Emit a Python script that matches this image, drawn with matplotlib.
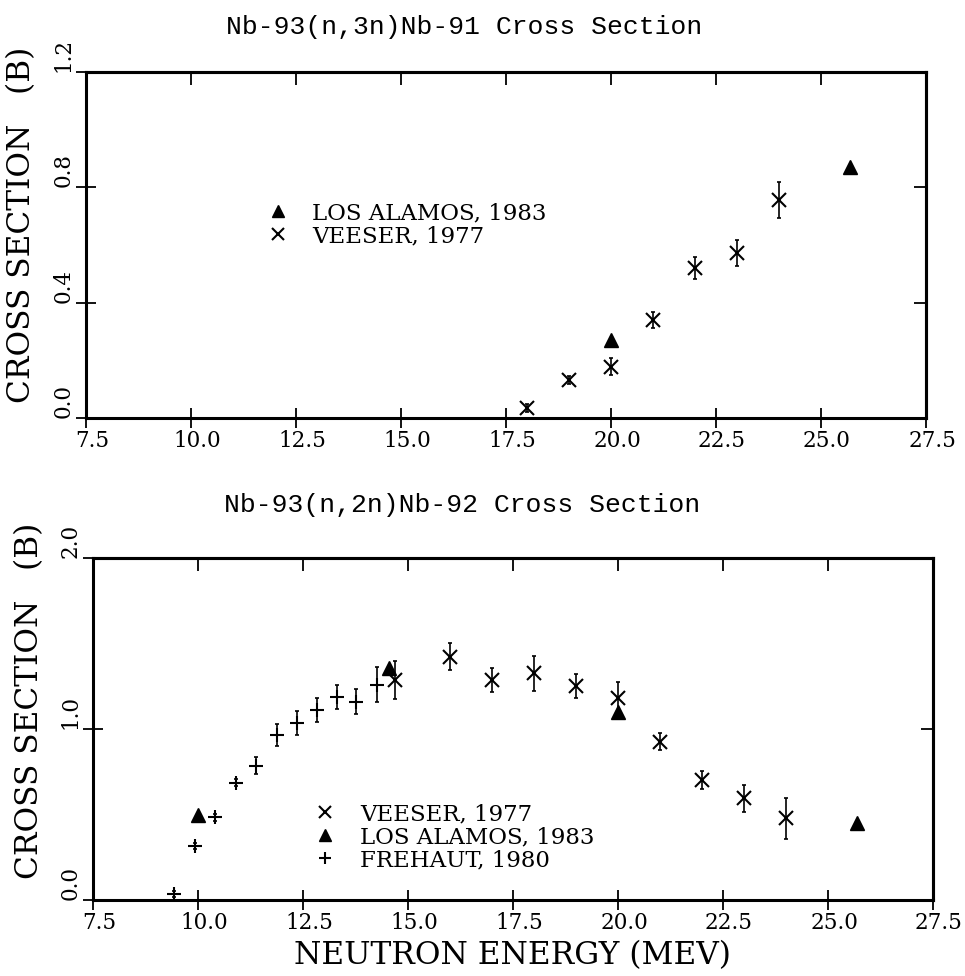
import matplotlib
matplotlib.use('Agg')
import matplotlib.pyplot as plt
import matplotlib.transforms as mtransforms
import numpy as np

# (n,3n) data
veeser3_e = [18.0, 19.0, 20.0, 21.0, 22.0, 23.0, 24.0]
veeser3_s = [0.035, 0.132, 0.178, 0.340, 0.521, 0.573, 0.756]
veeser3_err = [0.015, 0.015, 0.029, 0.027, 0.039, 0.045, 0.061]
lanl3_e = [20.0, 25.7]
lanl3_s = [0.272, 0.871]

# (n,2n) data
veeser2_e = [14.7, 16.0, 17.0, 18.0, 19.0, 20.0, 21.0, 22.0, 23.0, 24.0]
veeser2_s = [1.287, 1.423, 1.287, 1.325, 1.251, 1.180, 0.926, 0.700, 0.595, 0.478]
veeser2_err = [0.11, 0.08, 0.07, 0.10, 0.07, 0.095, 0.05, 0.053, 0.08, 0.12]
lanl2_e = [10.0, 14.55, 20.0, 25.7]
lanl2_s = [0.497, 1.355, 1.10, 0.45]
frehaut_e = [9.43, 9.93, 10.40, 10.90, 11.39, 11.87, 12.36, 12.84, 13.31, 13.77, 14.25]
frehaut_s = [0.035, 0.316, 0.484, 0.686, 0.784, 0.965, 1.033, 1.111, 1.189, 1.160, 1.260]
frehaut_err = [0.015, 0.02, 0.02, 0.02, 0.05, 0.065, 0.07, 0.07, 0.07, 0.075, 0.10]

xticks = [7.5, 10.0, 12.5, 15.0, 17.5, 20.0, 22.5, 25.0, 27.5]
yticks3 = [0.0, 0.4, 0.8, 1.2]
yticks2 = [0.0, 1.0, 2.0]

title3 = "Nb-93(n,3n)Nb-91 Cross Section"
title2 = "Nb-93(n,2n)Nb-92 Cross Section"

serif = 'DejaVu Serif'
W, H = 965, 976

fig = plt.figure(figsize=(W / 100, H / 100), dpi=100)
ax1 = fig.add_axes([86 / W, 1 - 418 / H, 840 / W, 346 / H])
ax2 = fig.add_axes([93 / W, 1 - 900 / H, 840 / W, 342 / H])


def style_axes(ax, yticks, ymax):
    ax.set_xlim(7.5, 27.5)
    ax.set_ylim(0, ymax)
    ax.set_xticks(xticks)
    ax.set_xticklabels(['%.1f' % t for t in xticks], family=serif, fontsize=15.5)
    ax.set_yticks(yticks)
    ax.set_yticklabels(['%.1f' % t for t in yticks], family=serif, fontsize=15.5,
                       rotation=90, va='bottom')
    ax.tick_params(direction='inout', length=14, width=1.3, pad=1.5)
    for sp in ax.spines.values():
        sp.set_linewidth(2.2)
    # inward ticks on top / right
    top = ax.secondary_xaxis('top')
    top.set_xticks(xticks[1:-1])
    top.tick_params(direction='in', length=9, width=1.3, labeltop=False)
    top.spines['top'].set_linewidth(2.2)
    right = ax.secondary_yaxis('right')
    right.set_yticks(yticks[1:-1])
    right.tick_params(direction='in', length=9, width=1.3, labelright=False)
    right.spines['right'].set_linewidth(2.2)
    shift = mtransforms.ScaledTranslation(6 / 100, 0, fig.dpi_scale_trans)
    for lab in ax.get_xticklabels():
        lab.set_transform(lab.get_transform() + shift)


style_axes(ax1, yticks3, 1.2)
style_axes(ax2, yticks2, 2.0)

eb = dict(fmt='none', ecolor='black', elinewidth=1.2, capsize=1.5, capthick=1.2)
leg = dict(loc='upper left', frameon=False, prop={'family': serif, 'size': 16.5},
           handlelength=1.0, handletextpad=1.0, labelspacing=0.04,
           borderpad=0, borderaxespad=0, markerscale=0.85)

# top panel
ax1.errorbar(veeser3_e, veeser3_s, yerr=veeser3_err, **eb)
ax1.plot(lanl3_e, lanl3_s, ls='none', marker='^', ms=10.5, color='black',
         label='LOS ALAMOS, 1983')
ax1.plot(veeser3_e, veeser3_s, ls='none', marker='x', ms=10.5, mew=1.5,
         color='black', label='VEESER, 1977')
ax1.legend(bbox_to_anchor=(0.215, 0.623), **leg)

# bottom panel
ax2.errorbar(veeser2_e, veeser2_s, yerr=veeser2_err, **eb)
ax2.errorbar(frehaut_e, frehaut_s, yerr=frehaut_err, **eb)
ax2.plot(veeser2_e, veeser2_s, ls='none', marker='x', ms=10.5, mew=1.5,
         color='black', label='VEESER, 1977')
ax2.plot(lanl2_e, lanl2_s, ls='none', marker='^', ms=10.5, color='black',
         label='LOS ALAMOS, 1983')
ax2.plot(frehaut_e, frehaut_s, ls='none', marker='+', ms=9.5, mew=1.5,
         color='black', label='FREHAUT, 1980')
ax2.legend(bbox_to_anchor=(0.263, 0.283), **leg)

# axis labels
ax1.set_ylabel('CROSS SECTION   (B)', family=serif, fontsize=22.5)
ax1.yaxis.set_label_coords(-0.058, 0.558)
ax2.set_ylabel('CROSS SECTION   (B)', family=serif, fontsize=22.5)
ax2.yaxis.set_label_coords(-0.057, 0.582)
ax2.set_xlabel('NEUTRON ENERGY (MEV)', family=serif, fontsize=22.5)
ax2.xaxis.set_label_coords(0.5, -0.118)

fig.text(464 / W, 1 - 27 / H, title3, ha='center', va='center',
         family='Liberation Mono', fontsize=19)
fig.text(462 / W, 1 - 505 / H, title2, ha='center', va='center',
         family='Liberation Mono', fontsize=19)

fig.savefig('out.png', dpi=100)
